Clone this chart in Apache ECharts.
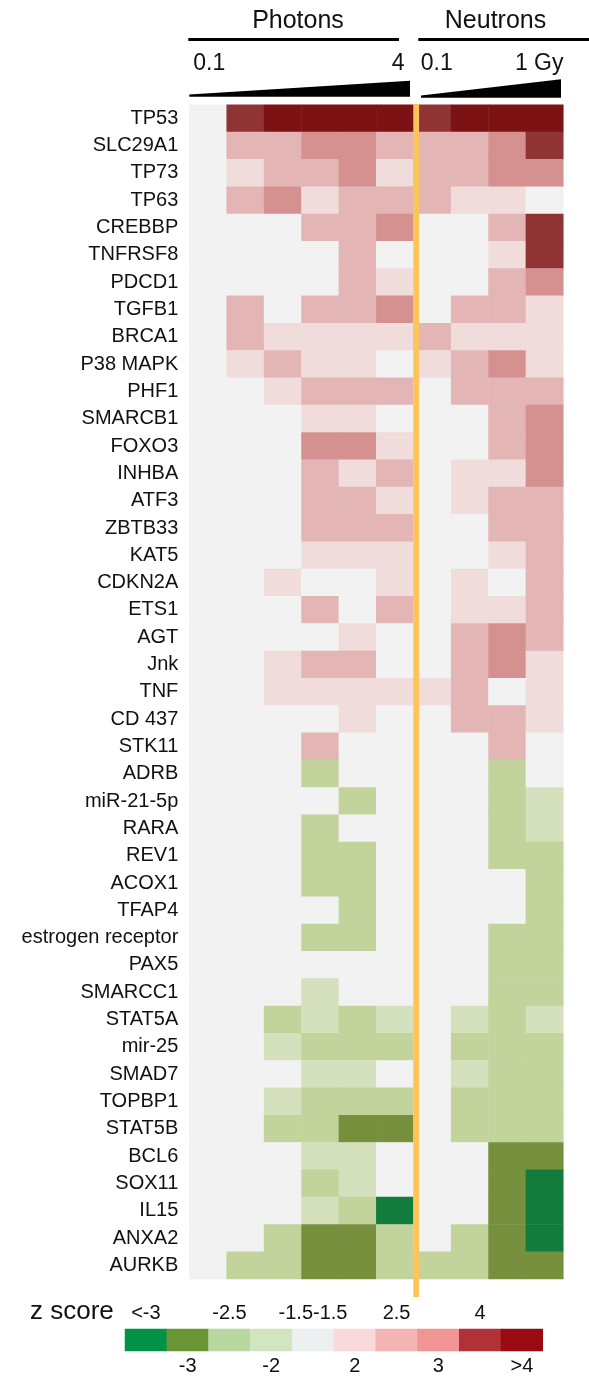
<!DOCTYPE html>
<html>
<head>
<meta charset="utf-8">
<script src="https://cdn.jsdelivr.net/npm/echarts@6/dist/echarts.min.js"></script>
<style>
html,body{margin:0;padding:0;background:#fff;}
#chart{width:589px;height:1376px;}
</style>
</head>
<body>
<div id="chart"></div>
<script>
// ---------- DATA ----------
const genes = ['TP53','SLC29A1','TP73','TP63','CREBBP','TNFRSF8','PDCD1','TGFB1','BRCA1','P38 MAPK','PHF1','SMARCB1','FOXO3','INHBA','ATF3','ZBTB33','KAT5','CDKN2A','ETS1','AGT','Jnk','TNF','CD 437','STK11','ADRB','miR-21-5p','RARA','REV1','ACOX1','TFAP4','estrogen receptor','PAX5','SMARCC1','STAT5A','mir-25','SMAD7','TOPBP1','STAT5B','BCL6','SOX11','IL15','ANXA2','AURKB'];
const columns = ['Photons 1','Photons 2','Photons 3','Photons 4','Photons 5','Photons 6','Neutrons 1','Neutrons 2','Neutrons 3','Neutrons 4'];

// z scores (binned), photons: 6 increasing doses 0.1..4 Gy
const zPhotons = [
 [0,4,5,5,5,5],[0,2.5,2.5,3,3,2.5],[0,2,2.5,2.5,3,2],[0,2.5,3,2,2.5,2.5],
 [0,0,0,2.5,2.5,3],[0,0,0,0,2.5,0],[0,0,0,0,2.5,2],[0,2.5,0,2.5,2.5,3],
 [0,2.5,2,2,2,2],[0,2,2.5,2,2,0],[0,0,2,2.5,2.5,2.5],[0,0,0,2,2,0],
 [0,0,0,3,3,2],[0,0,0,2.5,2,2.5],[0,0,0,2.5,2.5,2],[0,0,0,2.5,2.5,2.5],
 [0,0,0,2,2,2],[0,0,2,0,0,2],[0,0,0,2.5,0,2.5],[0,0,0,0,2,0],
 [0,0,2,2.5,2.5,0],[0,0,2,2,2,2],[0,0,0,0,2,0],[0,0,0,2.5,0,0],
 [0,0,0,-2.5,0,0],[0,0,0,0,-2.5,0],[0,0,0,-2.5,0,0],[0,0,0,-2.5,-2.5,0],
 [0,0,0,-2.5,-2.5,0],[0,0,0,0,-2.5,0],[0,0,0,-2.5,-2.5,0],[0,0,0,0,0,0],
 [0,0,0,-2,0,0],[0,0,-2.5,-2,-2.5,-2],[0,0,-2,-2.5,-2.5,-2.5],[0,0,0,-2,-2,0],
 [0,0,-2,-2.5,-2.5,-2.5],[0,0,-2.5,-2.5,-3,-3],[0,0,0,-2,-2,0],[0,0,0,-2.5,-2,0],
 [0,0,0,-2,-2.5,-3.5],[0,0,-2.5,-3,-3,-2.5],[0,-2.5,-2.5,-3,-3,-2.5]
];
// neutrons: 4 increasing doses 0.1..1 Gy
const zNeutrons = [
 [4,5,5,5],[2.5,2.5,3,4],[2.5,2.5,3,3],[2.5,2,2,0],
 [0,0,2.5,4],[0,0,2,4],[0,0,2.5,3],[0,2.5,2.5,2],
 [2.5,2,2,2],[2,2.5,3,2],[0,2.5,2.5,2.5],[0,0,2.5,3],
 [0,0,2.5,3],[0,2,2,3],[0,2,2.5,2.5],[0,0,2.5,2.5],
 [0,0,2,2.5],[0,2,0,2.5],[0,2,2,2.5],[0,2.5,3,2.5],
 [0,2.5,3,2],[2,2.5,0,2],[0,2.5,2.5,2],[0,0,2.5,0],
 [0,0,-2.5,0],[0,0,-2.5,-2],[0,0,-2.5,-2],[0,0,-2.5,-2.5],
 [0,0,0,-2.5],[0,0,0,-2.5],[0,0,-2.5,-2.5],[0,0,-2.5,-2.5],
 [0,0,-2.5,-2.5],[0,-2,-2.5,-2],[0,-2.5,-2.5,-2.5],[0,-2,-2.5,-2.5],
 [0,-2.5,-2.5,-2.5],[0,-2.5,-2.5,-2.5],[0,0,-3,-3],[0,0,-3,-3.5],
 [0,0,-3,-3.5],[0,-2.5,-3,-3.5],[-2.5,-2.5,-3,-3]
];

// bins and their colours in the heatmap
const binValues = [-3.5,-3,-2.5,-2,0,2,2.5,3,4,5];
const binColors = ['#137c3d','#76903d','#c2d39c','#d5e0bd','#f2f2f2','#efdcdb','#e3b5b5','#d49190','#8f3432','#7c1214'];

// colour key
const legendColors = ['#009245','#6a9636','#b8d89f','#d1e5bf','#edf0f0','#f9d9d9','#f5b4b4','#f09494','#b03236','#9a0a12'];
const legendTopLabels = ['<-3','','-2.5','','-1.5-1.5','','2.5','','4',''];
const legendBottomLabels = ['','-3','','-2','','2','','3','','>4'];

// ---------- BUILD ----------
const FONT = '"Liberation Sans", Arial, Helvetica, sans-serif';
const cells = [];
genes.forEach((g, r) => {
  const row = zPhotons[r].concat(zNeutrons[r]);
  row.forEach((v, c) => cells.push([c, r, v]));
});
const legendCells = legendColors.map((c, i) => ({ value: [i, 0, binValues[i]], itemStyle: { color: c } }));

const chart = echarts.init(document.getElementById('chart'), null, { renderer: 'canvas' });
const option = {
  backgroundColor: '#ffffff',
  animation: false,
  textStyle: { fontFamily: FONT },
  grid: [
    { left: 189.3, top: 104.7, width: 374, height: 1174.3 },
    { left: 125, top: 1329, width: 417.8, height: 24.7 }
  ],
  xAxis: [
    { type: 'category', data: columns, gridIndex: 0, show: false },
    { type: 'category', data: legendBottomLabels.map((_, i) => 'b' + i), gridIndex: 1, position: 'bottom',
      axisLine: { show: false }, axisTick: { show: false },
      axisLabel: { interval: 0, margin: 5, fontSize: 20, color: '#111', fontFamily: FONT,
        formatter: (v, i) => legendBottomLabels[i] } },
    { type: 'category', data: legendTopLabels.map((_, i) => 't' + i), gridIndex: 1, position: 'top',
      axisLine: { show: false }, axisTick: { show: false },
      axisLabel: { interval: 0, margin: 6, fontSize: 20, color: '#111', fontFamily: FONT,
        formatter: (v, i) => legendTopLabels[i] } }
  ],
  yAxis: [
    { type: 'category', data: genes, gridIndex: 0, inverse: true,
      axisLine: { show: false }, axisTick: { show: false },
      axisLabel: { interval: 0, margin: 11, fontSize: 20, color: '#111', fontFamily: FONT } },
    { type: 'category', data: ['key'], gridIndex: 1, show: false }
  ],
  visualMap: {
    type: 'piecewise', show: false, seriesIndex: 0, dimension: 2,
    pieces: binValues.map((v, i) => ({ value: v, color: binColors[i] }))
  },
  series: [
    { type: 'heatmap', xAxisIndex: 0, yAxisIndex: 0, data: cells,
      emphasis: { disabled: true } },
    { type: 'heatmap', xAxisIndex: 1, yAxisIndex: 1, data: legendCells, emphasis: { disabled: true } }
  ],
  graphic: [
    { type: 'text', x: 298, y: 21, z: 10, style: { text: 'Photons', font: '25px ' + FONT, fill: '#111', align: 'center', verticalAlign: 'middle' } },
    { type: 'text', x: 495.5, y: 21, z: 10, style: { text: 'Neutrons', font: '25px ' + FONT, fill: '#111', align: 'center', verticalAlign: 'middle' } },
    { type: 'rect', z: 10, shape: { x: 188.3, y: 38, width: 210.7, height: 3 }, style: { fill: '#000' } },
    { type: 'rect', z: 10, shape: { x: 418.3, y: 38, width: 171, height: 3 }, style: { fill: '#000' } },
    { type: 'text', x: 193.3, y: 63.5, z: 10, style: { text: '0.1', font: '23px ' + FONT, fill: '#111', align: 'left', verticalAlign: 'middle' } },
    { type: 'text', x: 404.5, y: 63.5, z: 10, style: { text: '4', font: '23px ' + FONT, fill: '#111', align: 'right', verticalAlign: 'middle' } },
    { type: 'text', x: 420.7, y: 63.5, z: 10, style: { text: '0.1', font: '23px ' + FONT, fill: '#111', align: 'left', verticalAlign: 'middle' } },
    { type: 'text', x: 563.5, y: 63.5, z: 10, style: { text: '1 Gy', font: '23px ' + FONT, fill: '#111', align: 'right', verticalAlign: 'middle' } },
    { type: 'polygon', z: 10, shape: { points: [[189.3, 94.5], [410, 80.7], [410, 96.8], [189.3, 96.8]] }, style: { fill: '#000' } },
    { type: 'polygon', z: 10, shape: { points: [[421, 95.5], [561, 79.3], [561, 97.7], [421, 97.7]] }, style: { fill: '#000' } },
    { type: 'rect', z: 20, shape: { x: 413.3, y: 104, width: 5.8, height: 1193 }, style: { fill: '#fcc55b' } },
    { type: 'text', x: 30, y: 1312, z: 10, style: { text: 'z score', font: '26px ' + FONT, fill: '#111', align: 'left', verticalAlign: 'middle' } }
  ]
};
chart.setOption(option);
</script>
</body>
</html>
